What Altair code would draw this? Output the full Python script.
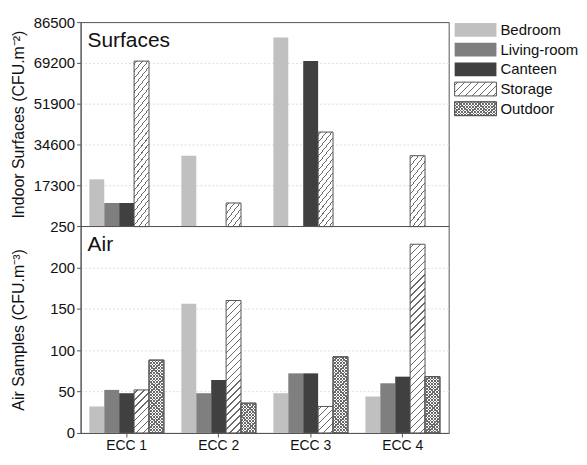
import altair as alt
import pandas as pd

# ---------------- data ----------------
sites = ["ECC 1", "ECC 2", "ECC 3", "ECC 4"]
surface_rooms = ["Bedroom", "Living-room", "Canteen", "Storage"]
air_rooms = ["Bedroom", "Living-room", "Canteen", "Storage", "Outdoor"]

surf_bedroom = [20000, 30000, 80000, None]
surf_living = [10000, None, None, None]
surf_canteen = [10000, None, 70000, None]
surf_storage = [70000, 10000, 40000, 30000]

air_bedroom = [32, 156, 48, 44]
air_living = [52, 48, 72, 60]
air_canteen = [48, 64, 72, 68]
air_storage = [52, 160, 32, 228]
air_outdoor = [88, 36, 92, 68]

top_ticks = [250, 17300, 34600, 51900, 69200, 86500]
bottom_ticks = [0, 50, 100, 150, 200]
panel_labels = ["Surfaces", "Air"]
title_top = "Indoor Surfaces (CFU.m\u207b\u00b2)"
title_bottom = "Air Samples (CFU.m\u207b\u00b3)"

solid_rooms = ["Bedroom", "Living-room", "Canteen"]
solid_colors = ["#c0c0c0", "#7f7f7f", "#404040"]

# ---------------- tables ----------------
def long(series_by_room):
    rows = []
    for room, vals in series_by_room.items():
        for s, v in zip(sites, vals):
            if v is not None:
                rows.append({"site": s, "room": room, "value": v})
    return pd.DataFrame(rows)

df_top = long({"Bedroom": surf_bedroom, "Living-room": surf_living,
               "Canteen": surf_canteen, "Storage": surf_storage})
df_bot = long({"Bedroom": air_bedroom, "Living-room": air_living,
               "Canteen": air_canteen, "Storage": air_storage,
               "Outdoor": air_outdoor})

# ---------------- layout ----------------
W = 370
H_TOP = 205
H_BOT = 208
PI = 0.19
PO = 0.095
step = W / (4 - PI + 2 * PO)
band = step * (1 - PI)
w_top = band / 4
w_bot = band / 5
FONT = "Liberation Sans"
LINE = "#6a6a6a"
EDGE = "#555555"


def stripes(w, h, period, lw, line_color, bg, direction):
    total = w + h
    stops = [{"offset": 0, "color": bg}]
    x = period * 0.5
    while x - lw / 2 < total:
        a = round(max(0.0, (x - lw / 2) / total), 5)
        b = round(min(1.0, (x + lw / 2) / total), 5)
        stops += [{"offset": a, "color": bg}, {"offset": a, "color": line_color},
                  {"offset": b, "color": line_color}, {"offset": b, "color": bg}]
        x += period
    stops.append({"offset": 1, "color": bg})
    k = total / (w * w + h * h)
    if direction == "/":
        return {"gradient": "linear", "x1": 0, "y1": 0,
                "x2": round(k * w, 6), "y2": round(k * h, 6), "stops": stops}
    return {"gradient": "linear", "x1": 0, "y1": 1,
            "x2": round(k * w, 6), "y2": round(1 - k * h, 6), "stops": stops}


def fill_by_site(df, room, height_fn, w, period, lw, bg, direction):
    conds = []
    for _, r in df[df.room == room].iterrows():
        h = max(height_fn(r.value), 1.0)
        conds.append({"test": f"datum.site === '{r.site}'",
                      "value": stripes(w, h, period, lw, LINE, bg, direction)})
    return alt.value(bg, condition=conds)


def panel(df, rooms, domain, ticks, height, title, label, w_bar, hfn, show_x):
    x = alt.X("site:N", sort=sites,
              scale=alt.Scale(domain=sites, paddingInner=PI, paddingOuter=PO),
              axis=(alt.Axis(title=None, labelAngle=0, labelFontSize=14, tickSize=4,
                             labelPadding=2, grid=False, labelColor="#111")
                    if show_x else None))
    xo = alt.XOffset("room:N", sort=rooms,
                     scale=alt.Scale(domain=rooms, paddingInner=0, paddingOuter=0))
    edge_test = f"datum.value === {domain[0]} || datum.value === {domain[1]}"
    y = alt.Y("value:Q",
              scale=alt.Scale(domain=domain, nice=False, zero=False),
              axis=alt.Axis(values=ticks, format="d", title=title,
                            titleX=-54, titleY=height / 2, titleAngle=270,
                            titleBaseline="bottom", titleAlign="center",
                            grid=True, gridColor="#dedede", gridDash=[2, 2],
                            gridOpacity={"condition": {"test": edge_test, "value": 0},
                                         "value": 1}))
    base = alt.Chart(df)
    solid = base.transform_filter(
        alt.FieldOneOfPredicate(field="room", oneOf=solid_rooms)
    ).mark_bar().encode(
        x=x, xOffset=xo, y=y,
        fill=alt.Fill("room:N", scale=alt.Scale(domain=solid_rooms, range=solid_colors),
                      legend=None))
    hatch = base.transform_filter(alt.datum.room == "Storage").mark_bar(
        stroke=EDGE, strokeWidth=1).encode(
        x=x, xOffset=xo, y=y,
        fill=fill_by_site(df, "Storage", hfn, w_bar, 7, 1.3, "#ffffff", "/"))
    layers = [solid, hatch]
    if "Outdoor" in rooms:
        o1 = base.transform_filter(alt.datum.room == "Outdoor").mark_bar(
            stroke=EDGE, strokeWidth=1).encode(
            x=x, xOffset=xo, y=y,
            fill=fill_by_site(df, "Outdoor", hfn, w_bar, 3.2, 1.2, "#ffffff", "/"))
        o2 = base.transform_filter(alt.datum.room == "Outdoor").mark_bar(
            stroke=EDGE, strokeWidth=1).encode(
            x=x, xOffset=xo, y=y,
            fill=fill_by_site(df, "Outdoor", hfn, w_bar, 3.2, 1.2,
                              "rgba(255,255,255,0)", "\\"))
        layers += [o1, o2]
    txt = alt.Chart(pd.DataFrame({"label": [label]})).mark_text(
        align="left", baseline="alphabetic", fontSize=21, font=FONT, color="#111"
    ).encode(x=alt.value(7), y=alt.value(25), text="label:N")
    layers.append(txt)
    return alt.layer(*layers).properties(width=W, height=height)


top = panel(df_top, surface_rooms, [250, 86500], top_ticks, H_TOP, title_top,
            panel_labels[0], w_top, lambda v: (v - 250) * H_TOP / 86250, False)
bottom = panel(df_bot, air_rooms, [0, 250], bottom_ticks, H_BOT, title_bottom,
               panel_labels[1], w_bot, lambda v: v * H_BOT / 250, True)

# ---------------- legend ----------------
df_leg = pd.DataFrame({"room": air_rooms})
ly = alt.Y("room:N", sort=air_rooms, axis=None,
           scale=alt.Scale(domain=air_rooms, paddingInner=0.3, paddingOuter=0.05))
SW, SH = 42, 14
leg_solid = alt.Chart(df_leg).transform_filter(
    alt.FieldOneOfPredicate(field="room", oneOf=solid_rooms)
).mark_bar().encode(
    y=ly, x=alt.value(0), x2=alt.value(SW),
    fill=alt.Fill("room:N", scale=alt.Scale(domain=solid_rooms, range=solid_colors),
                  legend=None))
leg_hatch = alt.Chart(df_leg).transform_filter(alt.datum.room == "Storage").mark_bar(
    stroke=EDGE, strokeWidth=1).encode(
    y=ly, x=alt.value(0), x2=alt.value(SW),
    fill=alt.value(stripes(SW, SH, 7, 1.3, LINE, "#ffffff", "/")))
leg_o1 = alt.Chart(df_leg).transform_filter(alt.datum.room == "Outdoor").mark_bar(
    stroke=EDGE, strokeWidth=1).encode(
    y=ly, x=alt.value(0), x2=alt.value(SW),
    fill=alt.value(stripes(SW, SH, 3.2, 1.2, LINE, "#ffffff", "/")))
leg_o2 = alt.Chart(df_leg).transform_filter(alt.datum.room == "Outdoor").mark_bar(
    stroke=EDGE, strokeWidth=1).encode(
    y=ly, x=alt.value(0), x2=alt.value(SW),
    fill=alt.value(stripes(SW, SH, 3.2, 1.2, LINE, "rgba(255,255,255,0)", "\\")))
leg_text = alt.Chart(df_leg).mark_text(
    align="left", baseline="middle", fontSize=15, font=FONT, color="#111"
).encode(y=ly, x=alt.value(SW + 4), text="room:N")
legend = alt.layer(leg_solid, leg_hatch, leg_o1, leg_o2, leg_text).properties(
    width=124, height=95, view=alt.ViewBackground(strokeOpacity=0))

chart = alt.hconcat(
    alt.vconcat(top, bottom, spacing=0, bounds="flush"),
    legend,
    spacing=4,
).configure(
    font=FONT, padding={"left": 2, "top": 5, "right": 0, "bottom": 0}
).configure_view(
    stroke=EDGE, strokeWidth=1
).configure_axis(
    labelFont=FONT, titleFont=FONT, labelFontSize=15, titleFontSize=16,
    titleFontWeight="normal", labelColor="#111", titleColor="#111",
    tickColor=EDGE, domainColor=EDGE, tickSize=4, labelPadding=2,
)

chart.save("out.html", embed_options={"renderer": "svg", "actions": False})
